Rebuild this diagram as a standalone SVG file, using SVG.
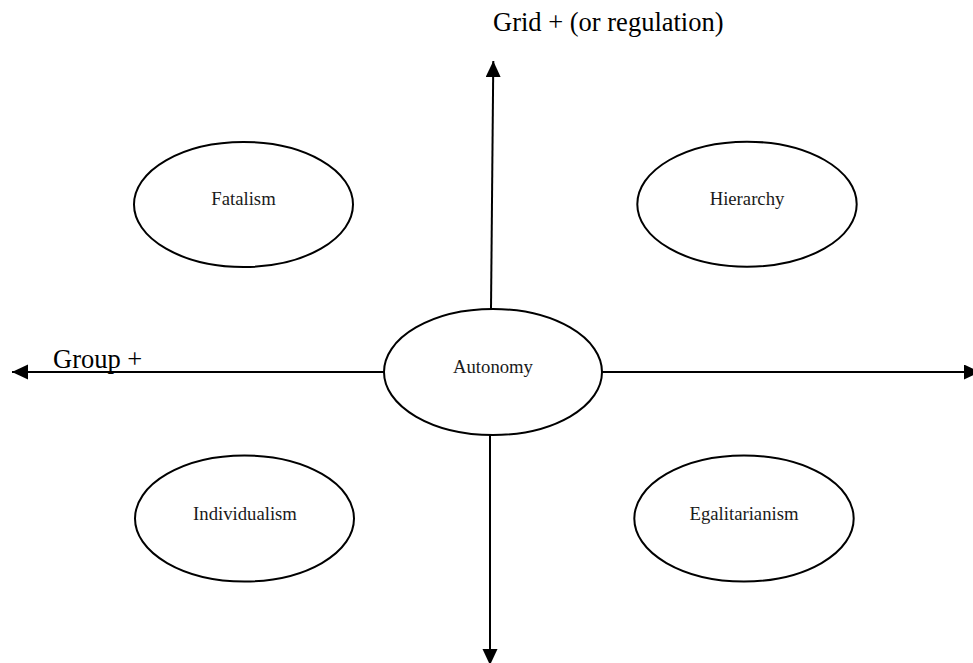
<svg xmlns="http://www.w3.org/2000/svg" width="973" height="663" viewBox="0 0 973 663">
<defs>
<style>
.node ellipse{fill:#fff;stroke:#000;stroke-width:2}
.node text{font-family:"Liberation Serif","Times New Roman",serif;font-size:18.7px;fill:#1a1a1a;text-anchor:middle}
.axis{stroke:#000;stroke-width:2;fill:none;marker-end:url(#arr)}
.lbl{font-family:"Liberation Serif","Times New Roman",serif;font-size:26.5px;fill:#000}
</style>
<marker id="arr" markerUnits="userSpaceOnUse" markerWidth="17" markerHeight="16" refX="16" refY="7.5" orient="auto">
<path d="M0,0 L16,7.5 L0,15 Z" fill="#000"/>
</marker>
</defs>
<g id="connectors">
<line class="axis" x1="384" y1="372" x2="12" y2="372"/>
<line class="axis" x1="602" y1="372" x2="980" y2="372"/>
<line class="axis" x1="491" y1="309" x2="493.3" y2="61"/>
<line class="axis" x1="490" y1="435" x2="490" y2="665"/>
</g>
<g id="node-fatalism" class="node">
<ellipse cx="243.5" cy="204.5" rx="109.5" ry="62.5"/>
<text x="243.5" y="205">Fatalism</text>
</g>
<g id="node-hierarchy" class="node">
<ellipse cx="747" cy="204.2" rx="109.7" ry="62.5"/>
<text x="747" y="205">Hierarchy</text>
</g>
<g id="node-autonomy" class="node">
<ellipse cx="493" cy="372" rx="109" ry="63"/>
<text x="493" y="373">Autonomy</text>
</g>
<g id="node-individualism" class="node">
<ellipse cx="244.5" cy="518.5" rx="109.5" ry="63"/>
<text x="245" y="520">Individualism</text>
</g>
<g id="node-egalitarianism" class="node">
<ellipse cx="744" cy="518.5" rx="109.7" ry="63"/>
<text x="744" y="520">Egalitarianism</text>
</g>
<text class="lbl" x="493" y="31">Grid + (or regulation)</text>
<text class="lbl" x="53" y="368">Group +</text>
</svg>
